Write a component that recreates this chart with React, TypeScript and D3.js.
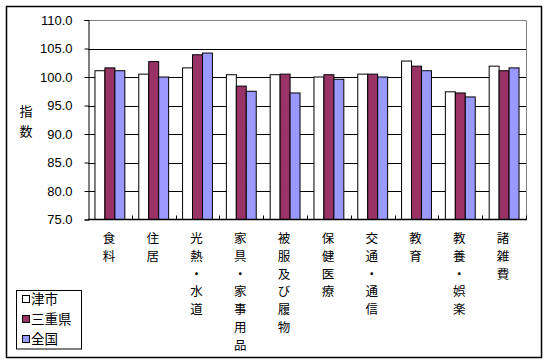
import React, { useRef, useEffect } from 'react';
import * as d3 from 'd3';

const categories = ['食料', '住居', '光熱・水道', '家具・家事用品', '被服及び履物', '保健医療', '交通・通信', '教育', '教養・娯楽', '諸雑費'];
const seriesNames = ['津市', '三重県', '全国'];
const tsuValues = [101.1, 100.5, 101.6, 100.4, 100.4, 100.0, 100.5, 102.8, 97.4, 101.9];
const mieValues = [101.6, 102.7, 103.9, 98.4, 100.5, 100.4, 100.5, 101.9, 97.2, 101.1];
const zenkokuValues = [101.1, 100.0, 104.2, 97.5, 97.2, 99.6, 100.0, 101.1, 96.5, 101.6];
const yTicks = [75, 80, 85, 90, 95, 100, 105, 110];
const colors = ['#ffffff', '#993366', '#9999ff'];

const W = 548;
const H = 363;
const left = 88;
const right = 526;
const top = 20;
const bottom = 219.5;

const App = () => {
  const svgRef = useRef<SVGSVGElement>(null);

  useEffect(() => {
    const svg = d3.select(svgRef.current);
    svg.selectAll('*').remove();

    const allSeries = [tsuValues, mieValues, zenkokuValues];

    const x = d3.scaleBand<string>().domain(categories).range([left, right]).paddingInner(0).paddingOuter(0);
    const x1 = d3.scaleBand<number>().domain([0, 1, 2]).range([0, x.bandwidth()]).paddingInner(0).paddingOuter(0.7);
    const y = d3.scaleLinear().domain([75, 110]).range([bottom, top]);

    // outer frame
    svg.append('rect')
      .attr('x', 6.5).attr('y', 6.5)
      .attr('width', 535).attr('height', 351)
      .attr('fill', 'white').attr('stroke', 'black').attr('stroke-width', 1.5);

    // gridlines
    svg.append('g')
      .selectAll('line')
      .data(yTicks.filter(t => t > 75 && t < 110))
      .join('line')
      .attr('x1', left).attr('x2', right)
      .attr('y1', d => Math.round(y(d)) + 0.5).attr('y2', d => Math.round(y(d)) + 0.5)
      .attr('stroke', 'black');

    // plot frame top/right (gray)
    svg.append('path')
      .attr('d', `M${left},${top + 0.5}H${right + 0.5}V${bottom}`)
      .attr('fill', 'none').attr('stroke', '#808080');

    // bars
    const groups = svg.append('g')
      .selectAll('g')
      .data(categories)
      .join('g')
      .attr('transform', d => `translate(${x(d)},0)`);

    groups.selectAll('rect')
      .data((d, i) => allSeries.map((s, k) => ({ k, v: s[i] })))
      .join('rect')
      .attr('x', d => x1(d.k)!)
      .attr('width', x1.bandwidth())
      .attr('y', d => y(d.v))
      .attr('height', d => bottom - y(d.v))
      .attr('fill', d => colors[d.k])
      .attr('stroke', 'black')
      .attr('stroke-width', 1);

    // y axis
    const yAxis = d3.axisLeft(y).tickValues(yTicks).tickSize(4).tickFormat(d => d3.format('.1f')(d as number));
    const ya = svg.append('g').attr('transform', `translate(${left + 0.5},0)`).call(yAxis);
    ya.select('.domain').attr('stroke', 'black');
    ya.selectAll('text')
      .attr('x', -16)
      .attr('font-family', 'Liberation Sans, Arial, sans-serif')
      .attr('font-size', 13)
      .attr('fill', 'black');

    // x axis baseline and inward ticks
    svg.append('line')
      .attr('x1', left).attr('x2', right + 1)
      .attr('y1', bottom).attr('y2', bottom)
      .attr('stroke', 'black').attr('stroke-width', 1.5);
    svg.append('g')
      .selectAll('line')
      .data(d3.range(1, categories.length + 1))
      .join('line')
      .attr('x1', i => Math.round(left + i * x.step()) + 0.5)
      .attr('x2', i => Math.round(left + i * x.step()) + 0.5)
      .attr('y1', bottom).attr('y2', bottom - 4)
      .attr('stroke', 'black');

    // category labels, vertical
    const labels = svg.append('g')
      .attr('font-family', '"Noto Sans CJK JP", sans-serif')
      .attr('font-size', 12.5)
      .attr('text-anchor', 'middle');
    categories.forEach(c => {
      const cx = x(c)! + x.bandwidth() / 2 - 1;
      Array.from(c).forEach((ch, j) => {
        labels.append('text')
          .attr('x', cx)
          .attr('y', 243 + j * 17.8)
          .text(ch);
      });
    });

    // y title
    const yt = svg.append('g')
      .attr('font-family', '"Noto Sans CJK JP", sans-serif')
      .attr('font-size', 13)
      .attr('text-anchor', 'middle');
    Array.from('指数').forEach((ch, j) => {
      yt.append('text').attr('x', 26).attr('y', 116 + j * 20).text(ch);
    });

    // legend
    svg.append('rect')
      .attr('x', 16.5).attr('y', 290.5)
      .attr('width', 65).attr('height', 58.5)
      .attr('fill', 'white').attr('stroke', 'black');
    const leg = svg.append('g')
      .selectAll('g')
      .data(seriesNames)
      .join('g')
      .attr('transform', (d, i) => `translate(0,${299 + i * 20})`);
    leg.append('rect')
      .attr('x', 22.5).attr('y', -3.5)
      .attr('width', 7).attr('height', 7)
      .attr('fill', (d, i) => colors[i])
      .attr('stroke', 'black');
    leg.append('text')
      .attr('x', 31)
      .attr('y', 5)
      .attr('font-family', '"Noto Sans CJK JP", sans-serif')
      .attr('font-size', 13.5)
      .text(d => d);
  }, []);

  return (
    <React.Fragment>
      <style>{'body{margin:0}'}</style>
      <svg ref={svgRef} width={W} height={H} style={{ display: 'block' }} />
    </React.Fragment>
  );
};

export default App;
